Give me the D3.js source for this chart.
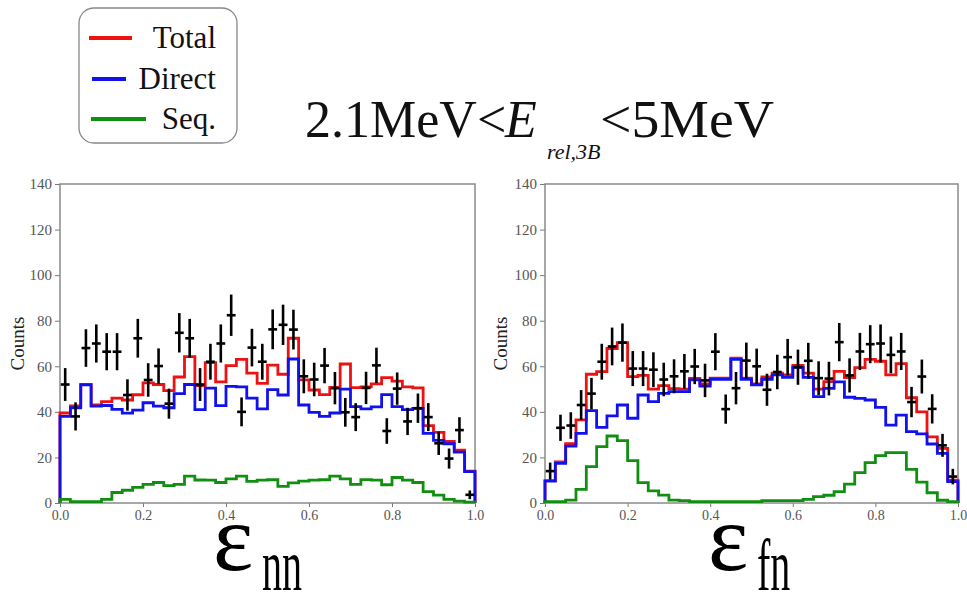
<!DOCTYPE html>
<html>
<head>
<meta charset="utf-8">
<script src="https://cdn.jsdelivr.net/npm/d3@7"></script>
<style>
  html, body { margin: 0; padding: 0; background: #fff; }
  svg { display: block; }
</style>
</head>
<body>
<svg id="chart" width="967" height="593"></svg>
<script>
// ---------- data ----------
const binCount = 40;
const binEdges = d3.range(binCount + 1).map(i => i / binCount);
const binCenters = d3.range(binCount).map(i => (i + 0.5) / binCount);

const yTickValues = [0, 20, 40, 60, 80, 100, 120, 140];
const xTickValues = [0.0, 0.2, 0.4, 0.6, 0.8, 1.0];

const seriesNames = ["Total", "Direct", "Seq."];
const seriesColors = ["#ee1111", "#1111ee", "#118f11"];

// eps_nn panel
const nnTotal = [39.5,42.6,52,43,44.5,46,45.2,47.5,52.7,52,49.3,55.3,64.2,51.5,61.6,53.2,60.3,63,57,52.5,60.5,56.5,72.3,54,49.6,47.6,50.7,61,50.6,51,52.3,55,53.5,51,50.5,34,31,27,23.2,14];
const nnDirect = [38,41.8,51.8,42.5,42.8,41.1,39.4,40.8,44,42.5,41.8,48,52,41,50.4,42.7,51.2,51,46,41.3,49.8,47.4,63.2,43,39.8,38,39.5,50,42.3,41.3,42.2,47.6,42.3,41,41.5,30.6,27.5,26,22.3,13.8];
const nnSeq = [1.6,0.6,0.6,0.6,1.6,4.6,5.6,6.9,8.2,9,7.6,8.2,11.8,10.1,10,9,10.6,11.8,9.5,10,10.2,7.3,8.8,9.6,10,10.2,11.8,10.6,8.2,10.3,10,8,11.2,10,9,5,3.5,1.6,0.8,0.4];
const nnData = [52,38,68,70,66.4,66.4,47.4,72.3,54,60.1,43.6,74.7,72.3,52,62,70,82.4,40,68.2,62,76.2,78.2,76.1,55.6,54.2,60.3,50.4,39.8,37.7,50.5,60.4,31.6,50.2,35.8,41.6,37.7,26.2,19.5,32,3.6];

// eps_fn panel
const fnTotal = [9.8,18,26,36.5,56.5,57.7,67.8,70.4,55.5,56,50,51.5,50.2,50,54.7,52.3,54.8,54.8,63.6,54.8,52.3,55.3,57,56.2,60.4,57,50,53.3,57.8,55,59.4,63,62.2,56.2,61.2,46.2,40,29,24,10];
const fnDirect = [9.6,17.4,25,30.6,40.5,33.2,38.2,43,37.2,47.4,44.5,48.1,48.9,48.9,54,51.3,54.3,54.3,63,54.3,51.8,54.3,56.2,55.1,59.5,55.1,46.7,50.3,53.2,46.4,45.9,45.2,42,34.2,38.6,31.3,30.3,25.9,21.8,9.4];
const fnSeq = [0.6,0.6,1.3,6,16,24.7,29.4,27.4,18.6,8.9,5.3,3.5,1.3,1,0.6,0.6,0.6,0.6,0.6,0.6,0.6,1,1,1,1,1.6,2.8,3.4,5,8.3,13.3,17.7,20.8,22.1,22.1,14.8,9.2,4.5,1.2,0.6];
const fnData = [14,33,34,43,48,62,68.7,70.4,59,59,58.5,54.2,55.6,57.8,59.9,53.8,66.4,41.2,50.4,62.5,60,49.7,57.5,64,59.6,62.4,54.8,54.6,70.6,56,66.5,69.7,70,65,66.5,44.3,55.5,41.3,25.3,11.6];

// ---------- drawing ----------
const svg = d3.select("#chart");
const serif = "'Liberation Serif', 'DejaVu Serif', serif";

const panels = [
  { left: 60,  right: 475, top: 184, bottom: 503, series: [nnTotal, nnDirect, nnSeq], data: nnData, labelX: 17,  sub: "nn", epsX: 213 },
  { left: 545, right: 958, top: 184, bottom: 503, series: [fnTotal, fnDirect, fnSeq], data: fnData, labelX: 500, sub: "fn", epsX: 708 }
];

panels.forEach(p => {
  const x = d3.scaleLinear().domain([0, 1]).range([p.left, p.right]);
  const y = d3.scaleLinear().domain([0, 140]).range([p.bottom, p.top]);
  const g = svg.append("g");

  // axes
  const yAxis = d3.axisLeft(y).tickValues(yTickValues).tickSize(5).tickPadding(3);
  const xAxis = d3.axisBottom(x).tickValues(xTickValues).tickSize(4).tickPadding(3).tickFormat(d3.format(".1f"));

  const ya = g.append("g").attr("transform", `translate(${p.left},0)`).call(yAxis);
  const xa = g.append("g").attr("transform", `translate(0,${p.bottom})`).call(xAxis);
  [ya, xa].forEach(a => {
    a.select(".domain").remove();
    a.selectAll("line").attr("stroke", "#777").attr("stroke-width", 1);
    a.selectAll("text").attr("fill", "#555").style("font-family", serif);
  });
  ya.selectAll("text").style("font-size", "15px");
  xa.selectAll("text").style("font-size", "14px");

  // frame
  g.append("rect")
    .attr("x", p.left).attr("y", p.top)
    .attr("width", p.right - p.left).attr("height", p.bottom - p.top)
    .attr("fill", "none").attr("stroke", "#8a8a8a").attr("stroke-width", 1.5);

  // y label
  g.append("text")
    .attr("transform", `translate(${p.labelX + 7},${(p.top + p.bottom) / 2}) rotate(-90)`)
    .attr("text-anchor", "middle")
    .style("font-family", serif).style("font-size", "19px")
    .attr("fill", "#222")
    .text("Counts");

  // step histograms
  const line = d3.line().x(d => x(d[0])).y(d => y(d[1])).curve(d3.curveStepAfter);
  p.series.forEach((vals, k) => {
    const pts = [[0, 0]].concat(vals.map((v, i) => [binEdges[i], v]));
    pts.push([1, vals[vals.length - 1]]);
    pts.push([1, 0]);
    g.append("path")
      .attr("d", line(pts))
      .attr("fill", "none")
      .attr("stroke", seriesColors[k])
      .attr("stroke-width", 2.8)
      .attr("stroke-linejoin", "miter");
  });

  // data points with Poisson error bars
  const halfW = 0.5 / binCount * 0.85;
  const pts = g.append("g").attr("stroke", "#000").attr("stroke-width", 2.6);
  p.data.forEach((v, i) => {
    const c = binCenters[i];
    const e = Math.sqrt(v);
    pts.append("line")
      .attr("x1", x(c)).attr("x2", x(c))
      .attr("y1", y(v - e)).attr("y2", y(v + e));
    pts.append("line")
      .attr("x1", x(c - halfW)).attr("x2", x(c + halfW))
      .attr("y1", y(v)).attr("y2", y(v));
  });

  // bottom label: epsilon with subscript
  svg.append("text")
    .attr("x", p.epsX).attr("y", 570)
    .style("font-family", serif).style("font-size", "96px")
    .attr("fill", "#000")
    .text("ε");
  svg.append("text")
    .attr("transform", `translate(${p.epsX + 49},590) scale(1,1.85)`)
    .style("font-family", serif).style("font-size", "40px")
    .attr("fill", "#000")
    .text(p.sub);
});

// ---------- legend ----------
const leg = svg.append("g");
leg.append("rect")
  .attr("x", 79).attr("y", 8).attr("width", 158).attr("height", 135)
  .attr("rx", 15).attr("ry", 15)
  .attr("fill", "#fff").attr("stroke", "#888").attr("stroke-width", 1.3);
const legRows = [
  { y: 38, x1: 89, x2: 132 },
  { y: 79, x1: 92, x2: 126 },
  { y: 119, x1: 91, x2: 146 }
];
seriesNames.forEach((name, k) => {
  const r = legRows[k];
  leg.append("line")
    .attr("x1", r.x1).attr("x2", r.x2).attr("y1", r.y).attr("y2", r.y)
    .attr("stroke", seriesColors[k]).attr("stroke-width", 4);
  leg.append("text")
    .attr("x", 216).attr("y", r.y + 10)
    .attr("text-anchor", "end")
    .style("font-family", serif).style("font-size", "31px")
    .attr("fill", "#111")
    .text(name);
});

// ---------- title ----------
const title = svg.append("text")
  .attr("y", 137)
  .style("font-family", serif).style("font-size", "52px")
  .attr("fill", "#111");
title.append("tspan").attr("x", 305).text("2.1MeV");
title.append("tspan").attr("x", 477).text("<");
title.append("tspan").attr("x", 505).style("font-style", "italic").text("E");
title.append("tspan").attr("x", 547).attr("y", 159).style("font-style", "italic").style("font-size", "22px").text("rel,3B");
title.append("tspan").attr("x", 600).attr("y", 137)
  .attr("textLength", 174).attr("lengthAdjust", "spacingAndGlyphs").text("<5MeV");
</script>
</body>
</html>
